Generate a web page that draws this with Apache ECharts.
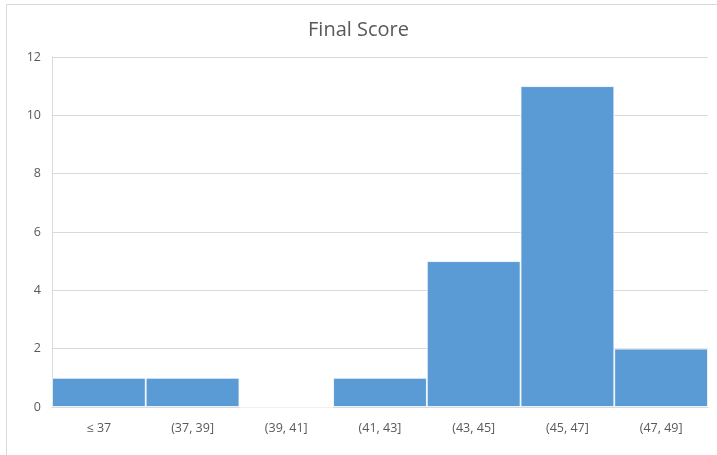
<!DOCTYPE html>
<html>
<head>
<meta charset="utf-8">
<script src="https://cdn.jsdelivr.net/npm/echarts@6/dist/echarts.min.js"></script>
<style>
    html, body { margin: 0; padding: 0; background: #fff; }
    #chart { width: 717px; height: 455px; }
</style>
</head>
<body>
<div id="chart"></div>
<script>
// 分箱区间与频数
var bins = ["≤ 37", "(37, 39]", "(39, 41]", "(41, 43]", "(43, 45]", "(45, 47]", "(47, 49]"];
var counts = [1, 1, 0, 1, 5, 11, 2];
var yTicks = [0, 2, 4, 6, 8, 10, 12];

(function () {
    var myChart = echarts.init(document.getElementById("chart"));
    var font = "'Open Sans', 'Noto Sans', sans-serif";
    var option = {
        animation: false,
        textStyle: { fontFamily: font },
        // 外框
        graphic: [{
            type: 'rect',
            shape: { x: 6.5, y: 4.5, width: 720, height: 460 },
            style: { fill: 'none', stroke: '#d9d9d9', lineWidth: 1 },
            silent: true
        }],
        title: {
            text: "Final Score",
            left: 'center',
            top: 15,
            textStyle: {
                color: '#595959',
                fontSize: 20,
                fontWeight: 'normal',
                fontFamily: font
            }
        },
        grid: {
            left: 52,
            right: 9,
            top: 57,
            bottom: 48,
            containLabel: false
        },
        xAxis: {
            type: 'category',
            data: bins,
            axisTick: { show: false },
            axisLine: { lineStyle: { color: '#d9d9d9', width: 1 } },
            axisLabel: {
                color: '#595959',
                fontSize: 12.5,
                margin: 15,
                interval: 0
            }
        },
        yAxis: {
            type: 'value',
            min: yTicks[0],
            max: yTicks[yTicks.length - 1],
            interval: 2,
            axisLine: { show: true, lineStyle: { color: '#d9d9d9' } },
            axisTick: { show: false },
            axisLabel: { color: '#595959', fontSize: 12.5, margin: 11 },
            splitLine: { lineStyle: { color: '#d9d9d9' } }
        },
        series: [{
            name: 'Final Score',
            type: 'bar',
            data: counts,
            barCategoryGap: 0,
            itemStyle: {
                color: '#5b9bd5',
                borderColor: '#ffffff',
                borderWidth: 0.8
            }
        }]
    };
    myChart.setOption(option);
})();
</script>
</body>
</html>
